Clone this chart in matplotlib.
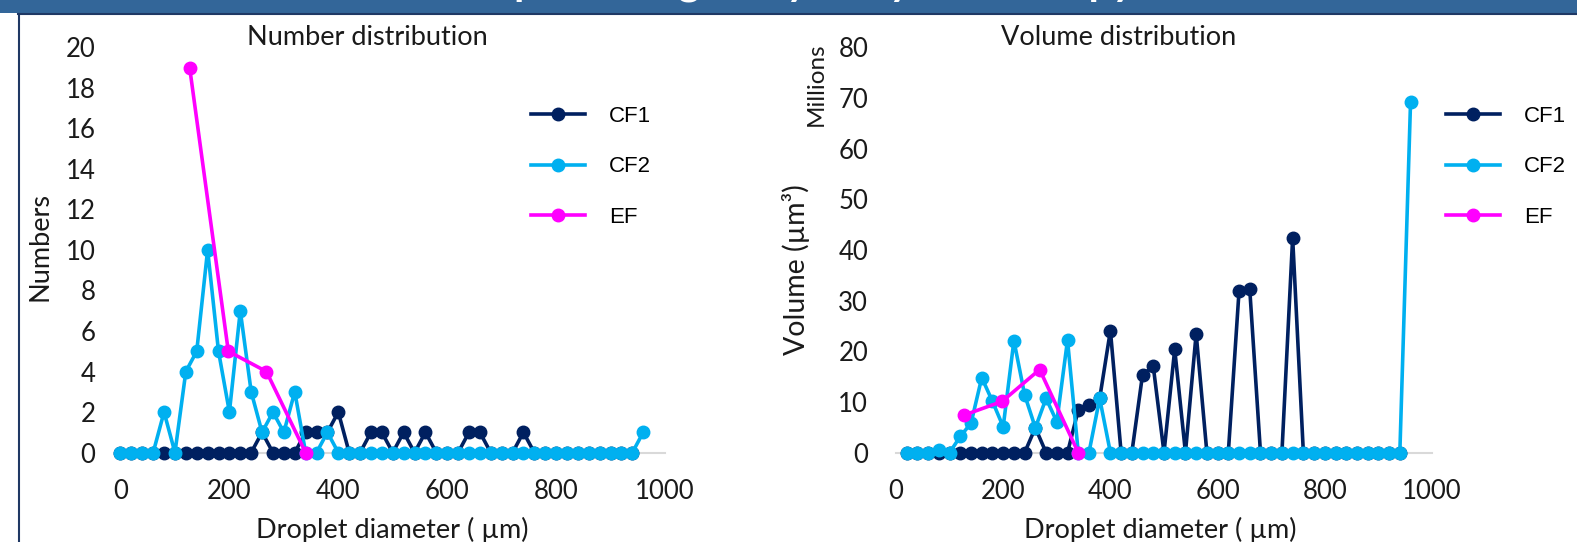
import numpy as np
import matplotlib
matplotlib.use("Agg")
import matplotlib.pyplot as plt
from matplotlib.patches import Rectangle
from matplotlib.lines import Line2D

# droplet diameter bins (um)
diam_num = np.arange(0, 980, 20)   # number chart: 0 .. 960
diam_vol = np.arange(20, 980, 20)  # volume chart: 20 .. 960

# number distribution (counts), one value per bin, rows of 10 bins
cf1_num = [0, 0, 0, 0, 0, 0, 0, 0, 0, 0,      # 0-180
           0, 0, 0, 1, 0, 0, 0, 1, 1, 1,      # 200-380
           2, 0, 0, 1, 1, 0, 1, 0, 1, 0,      # 400-580
           0, 0, 1, 1, 0, 0, 0, 1, 0, 0,      # 600-780
           0, 0, 0, 0, 0, 0, 0, 0]            # 800-940
cf2_num = [0, 0, 0, 0, 2, 0, 4, 5, 10, 5,     # 0-180
           2, 7, 3, 1, 2, 1, 3, 0, 0, 1,      # 200-380
           0, 0, 0, 0, 0, 0, 0, 0, 0, 0,      # 400-580
           0, 0, 0, 0, 0, 0, 0, 0, 0, 0,      # 600-780
           0, 0, 0, 0, 0, 0, 0, 0, 1]         # 800-960

# volume distribution (millions of um^3), rows of 10 bins
cf1_vol = [0, 0, 0, 0, 0, 0, 0, 0, 0, 0,                  # 20-200
           0, 0, 4.9, 0, 0, 0, 8.4, 9.4, 10.7, 24.1,      # 220-400
           0, 0, 15.4, 17.0, 0, 20.4, 0, 23.5, 0, 0,      # 420-600
           0, 31.9, 32.2, 0, 0, 0, 42.4, 0, 0, 0,         # 620-800
           0, 0, 0, 0, 0, 0, 0]                           # 820-940
cf2_vol = [0, 0, 0, 0.5, 0, 3.2, 5.8, 14.8, 10.1, 5.1,    # 20-200
           22.1, 11.4, 4.9, 10.7, 6.1, 22.2, 0, 0, 10.7, 0,  # 220-400
           0, 0, 0, 0, 0, 0, 0, 0, 0, 0,                  # 420-600
           0, 0, 0, 0, 0, 0, 0, 0, 0, 0,                  # 620-800
           0, 0, 0, 0, 0, 0, 0, 69.3]                     # 820-960

# EF was measured on its own bins
ef_diam = [127, 198, 268, 340]
ef_num = [19, 5, 4, 0]
ef_vol = [7.4, 10.1, 16.4, 0]

navy = "#002060"
cyan = "#00B0F0"
magenta = "#FF00FF"
txt = "#1a1a1a"

plt.rcParams["font.family"] = ["Lato", "DejaVu Sans"]

W, H = 1577, 542
fig = plt.figure(figsize=(W / 100, H / 100), dpi=100)


def fx(px):
    return px / W


def fy(py):
    return 1 - py / H


# header bar (title mostly cut off at the top) and frame
fig.patches.append(Rectangle((0, fy(13)), 1, 13 / H, transform=fig.transFigure,
                             facecolor="#336699", edgecolor="none", zorder=0))
fig.add_artist(Line2D([fx(18), 1], [fy(13.5), fy(13.5)], color="#1F3864", lw=1.5))
fig.add_artist(Line2D([fx(19), fx(19)], [fy(13.5), 0], color="#1F3864", lw=1.5))
fig.text(0.5, fy(-6), "Droplet sizing analysis by microscopy", color="white",
         fontsize=30, fontweight="bold", ha="center", va="baseline")

ax1 = fig.add_axes([fx(120.5), fy(452.6), 544.5 / W, (452.6 - 47.3) / H])
ax2 = fig.add_axes([fx(896), fy(452.6), 536 / W, (452.6 - 47.3) / H])


def draw(ax, x, cf1, cf2, ef_y):
    kw = dict(marker="o", markersize=9, lw=2.6, clip_on=False, zorder=3)
    ax.plot(x[:len(cf1)], cf1, color=navy, label="CF1", **kw)
    ax.plot(x[:len(cf2)], cf2, color=cyan, label="CF2", **kw)
    ax.plot(ef_diam, ef_y, color=magenta, label="EF", **kw)


def style(ax, ymax, ystep, ypad):
    ax.set_xlim(0, 1000)
    ax.set_ylim(0, ymax)
    ax.set_xticks(range(0, 1001, 200))
    ax.set_yticks(np.arange(0, ymax + 1, ystep))
    for s in ["top", "right", "left"]:
        ax.spines[s].set_visible(False)
    ax.spines["bottom"].set_color("#D9D9D9")
    ax.spines["bottom"].set_linewidth(1.5)
    ax.spines["bottom"].set_zorder(1)
    ax.tick_params(length=0, labelsize=18.5, labelcolor=txt)
    ax.tick_params(axis="x", pad=19)
    ax.tick_params(axis="y", pad=ypad)
    ax.patch.set_visible(False)


draw(ax1, diam_num, cf1_num, cf2_num, ef_num)
draw(ax2, diam_vol, cf1_vol, cf2_vol, ef_vol)
style(ax1, 20, 2, 18)
style(ax2, 80, 10, 20)

leg_kw = dict(loc="center left", bbox_transform=fig.transFigure, frameon=False,
              borderpad=0, borderaxespad=0, handlelength=2.43, handletextpad=1.08,
              labelspacing=1.32, prop={"family": "Liberation Sans", "size": 16})
ax1.legend(bbox_to_anchor=(fx(530.7), fy(167)), **leg_kw)
ax2.legend(bbox_to_anchor=(fx(1446), fy(167)), **leg_kw)

# titles and axis labels
fig.text(fx(367), fy(38), "Number distribution", fontsize=19.5, color=txt, ha="center", va="center")
fig.text(fx(1119), fy(38), "Volume distribution", fontsize=19.5, color=txt, ha="center", va="center")
fig.text(fx(40), fy(246), "Numbers", fontsize=19.5, color=txt, rotation=90, ha="center", va="center")
fig.text(fx(796), fy(270), "Volume (µm³)", fontsize=20.5, color=txt, rotation=90, ha="center", va="center")
fig.text(fx(816), fy(84), "Millions", fontsize=17.5, color=txt, rotation=90, ha="center", va="center")
fig.text(fx(392), fy(530), "Droplet diameter ( µm)", fontsize=19.5, color=txt, ha="center", va="center")
fig.text(fx(1160), fy(530), "Droplet diameter ( µm)", fontsize=19.5, color=txt, ha="center", va="center")

fig.savefig("out.png", dpi=100)
